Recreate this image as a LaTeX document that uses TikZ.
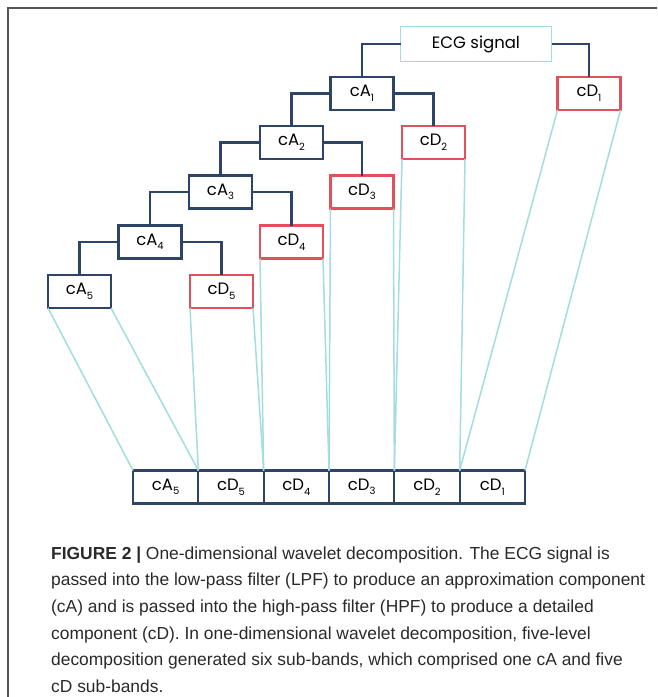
\documentclass[tikz,border=0pt]{standalone}
\usepackage{fontspec}
\setmainfont{Liberation Sans}
\newfontfamily\boxfont{Poppins}
\definecolor{navy}{HTML}{2D4466}
\definecolor{redb}{HTML}{E2505C}
\definecolor{cyanl}{HTML}{A3DDE0}
\definecolor{framegray}{HTML}{555555}
\definecolor{captext}{HTML}{2A2A2A}
\newcommand{\lbl}[2]{#1\raisebox{-0.5ex}{\fontsize{10}{10}\selectfont #2}}
\tikzset{
  abox/.style={draw=navy, line width=2.3pt, minimum width=63pt, minimum height=33pt, inner sep=0pt, outer sep=0pt, font=\boxfont\fontsize{16.5}{18}\selectfont},
  dbox/.style={abox, draw=redb},
  cell/.style={draw=navy, line width=2.3pt, minimum width=65.33pt, minimum height=33pt, inner sep=0pt, outer sep=0pt, font=\boxfont\fontsize{16.5}{18}\selectfont},
  tree/.style={draw=navy, line width=2.3pt},
  map/.style={draw=cyanl, line width=1.5pt},
  captext/.style={anchor=base west, inner sep=0pt, text=captext, font=\fontsize{17.4}{20}\selectfont}
}
\begin{document}
\begin{tikzpicture}[x=1pt, y=-1pt]
\useasboundingbox (0,0) rectangle (657,697);
\fill[white] (0,0) rectangle (657,697);
\draw[framegray, line width=1.3pt] (8,697) -- (8,8) -- (657,8);

\node[abox, draw=cyanl, line width=1.8pt, minimum width=151pt, minimum height=35pt] (ecg) at (476,44) {ECG signal};
\node[abox] (a1) at (362,93.5) {\lbl{cA}{1}};
\node[dbox] (d1) at (589,93.5) {\lbl{cD}{1}};
\node[abox] (a2) at (291.5,142.5) {\lbl{cA}{2}};
\node[dbox] (d2) at (433.5,142.5) {\lbl{cD}{2}};
\node[abox] (a3) at (220.5,192) {\lbl{cA}{3}};
\node[dbox] (d3) at (362,192) {\lbl{cD}{3}};
\node[abox] (a4) at (150,242) {\lbl{cA}{4}};
\node[dbox] (d4) at (291.5,242) {\lbl{cD}{4}};
\node[abox] (a5) at (79.5,291.5) {\lbl{cA}{5}};
\node[dbox] (d5) at (221.5,291.5) {\lbl{cD}{5}};

\draw[tree] (ecg.west) -| (a1.north);
\draw[tree] (ecg.east) -| (d1.north);
\draw[tree] (a1.west) -| (a2.north);
\draw[tree] (a1.east) -| (d2.north);
\draw[tree] (a2.west) -| (a3.north);
\draw[tree] (a2.east) -| (d3.north);
\draw[tree] (a3.west) -| (a4.north);
\draw[tree] (a3.east) -| (d4.north);
\draw[tree] (a4.west) -| (a5.north);
\draw[tree] (a4.east) -| (d5.north);

\node[cell] (b1) at (165.67,487) {\lbl{cA}{5}};
\node[cell] (b2) at (231,487) {\lbl{cD}{5}};
\node[cell] (b3) at (296.33,487) {\lbl{cD}{4}};
\node[cell] (b4) at (361.67,487) {\lbl{cD}{3}};
\node[cell] (b5) at (427,487) {\lbl{cD}{2}};
\node[cell] (b6) at (492.33,487) {\lbl{cD}{1}};

\draw[map] (a5.south west) -- (b1.north west);
\draw[map] (a5.south east) -- (b1.north east);
\draw[map] (d5.south west) -- (b2.north west);
\draw[map] (d5.south east) -- (b2.north east);
\draw[map] (d4.south west) -- (b3.north west);
\draw[map] (d4.south east) -- (b3.north east);
\draw[map] (d3.south west) -- (b4.north west);
\draw[map] (d3.south east) -- (b4.north east);
\draw[map] (d2.south west) -- (b5.north west);
\draw[map] (d2.south east) -- (b5.north east);
\draw[map] (d1.south west) -- (b6.north west);
\draw[map] (d1.south east) -- (b6.north east);

\node[captext] (c1) at (51,559) {\textbf{FIGURE 2 |} One-dimensional wavelet decomposition. The ECG signal is};
\node[captext] (c2) at (51,585.7) {passed into the low-pass filter (LPF) to produce an approximation component};
\node[captext] (c3) at (51,612.4) {(cA) and is passed into the high-pass filter (HPF) to produce a detailed};
\node[captext] (c4) at (51,639.1) {component (cD). In one-dimensional wavelet decomposition, five-level};
\node[captext] (c5) at (51,665.8) {decomposition generated six sub-bands, which comprised one cA and five};
\node[captext] (c6) at (51,692.5) {cD sub-bands.};
\end{tikzpicture}
\end{document}
